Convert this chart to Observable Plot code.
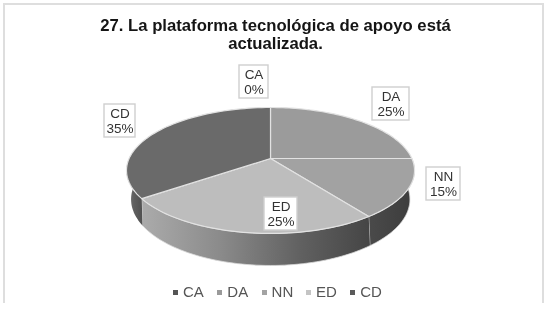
<!DOCTYPE html>
<html><head><meta charset="utf-8">
<script src="https://cdn.jsdelivr.net/npm/d3@7"></script>
<script src="https://cdn.jsdelivr.net/npm/@observablehq/plot@0.6"></script>
<style>
html,body{margin:0;padding:0;background:#fff;width:549px;height:309px;overflow:hidden}
#page{position:relative;width:549px;height:309px;font-family:"Liberation Sans",Arial,sans-serif;filter:blur(.35px)}
#frame{position:absolute;left:3px;top:3px;width:537px;height:298px;border:2px solid #dedede;border-bottom:none;pointer-events:none}
#title{position:absolute;left:0;top:0;width:551px;height:54px;box-sizing:border-box;padding-top:17px;text-align:center;font-weight:700;font-size:16.7px;line-height:18px;color:#151515}
#chart{position:absolute;left:0;top:54px}
#chart svg{display:block}
#legend{position:absolute;left:173px;top:283px;display:flex;font-size:15px;line-height:18px;color:#555;white-space:nowrap}
#legend span.it{display:block;width:44.3px}
#legend i{display:inline-block;width:5px;height:5px;margin:0 5px 2px 0;vertical-align:middle}
</style></head>
<body>
<div id="page">
<div id="frame"></div>
<div id="title">27. La plataforma tecnológica de apoyo está<br>actualizada.</div>
<div id="chart"></div>
<div id="legend"></div>
</div>
<script>
const categories = ["CA","DA","NN","ED","CD"];
const percents = [0,25,15,25,35];
const topColors = ["#555555","#9b9b9b","#a2a2a2","#bdbdbd","#6a6a6a"];
const legendColors = ["#555555","#9a9a9a","#a3a3a3","#c4c4c4","#5a5a5a"];

// label boxes, in page pixels
const labelLeft = [239,372,426,264,104];
const labelTop = [65,87,167,197,104];
const labelWidth = [29,37,34,33,31];
const labelHeight = 33;

// tilted-disc geometry
const svgTop = 54, cx = 270, cy = 158 - svgTop, sx = 141.4, sy = 60.7, persp = 0.19;
const baseX = 135/sx, baseY = 62/sy, baseK = 0.25, baseDrop = 24.3/sy;
const px = p => (p - cx)/sx, py = p => -(p - svgTop - cy)/sy;

const slices = d3.pie().sort(null).value(d => d)(percents)
  .map((s,i) => ({cat:categories[i], a0:s.startAngle, a1:s.endAngle}));

const topPoint = a => {
  const u = Math.sin(a), v = Math.cos(a), w = 1 + persp*v;
  return {x:u/w, y:v/w};
};
const basePoint = a => {
  const u = Math.sin(a), v = Math.cos(a), w = 1 + baseK*v;
  return {x:baseX*u/w, y:baseY*v/w - baseDrop};
};
const arcAngles = (a0,a1) => d3.range(0,61).map(i => a0 + (a1-a0)*i/60);

const faces = slices.flatMap(s => [
  {cat:s.cat, x:0, y:0},
  ...arcAngles(s.a0,s.a1).map(a => ({cat:s.cat, ...topPoint(a)})),
  {cat:s.cat, x:0, y:0}
]);
const wall = (a0,a1) => [
  ...arcAngles(a0,a1).map(topPoint),
  ...arcAngles(a0,a1).reverse().map(basePoint)
];
const byCat = c => slices.find(s => s.cat === c);
const rad = d => d*Math.PI/180;
const nnWall = wall(byCat("NN").a0, byCat("NN").a1);
const edWall = wall(byCat("ED").a0, byCat("ED").a1);
const cdWall = wall(byCat("CD").a0, rad(272));

const labels = categories.map((c,i) => ({
  cat:c, pct:percents[i],
  x1:px(labelLeft[i]), x2:px(labelLeft[i]+labelWidth[i]),
  y1:py(labelTop[i]), y2:py(labelTop[i]+labelHeight),
  tx:px(labelLeft[i]+labelWidth[i]/2), ty:py(labelTop[i]+labelHeight/2),
  text:c+"\n"+percents[i]+"%"
}));

const gradient = (id,stops) => () => {
  const svg = d3.create("svg:defs");
  const g = svg.append("linearGradient").attr("id",id).attr("gradientUnits","objectBoundingBox");
  stops.forEach(([o,c]) => g.append("stop").attr("offset",o).attr("stop-color",c));
  return svg.node();
};

const chart = Plot.plot({
  width:549, height:214, margin:0,
  style:{background:"transparent",overflow:"visible"},
  x:{domain:[-1,1], range:[cx-sx,cx+sx], axis:null},
  y:{domain:[-1,1], range:[cy+sy,cy-sy], axis:null},
  color:{domain:categories, range:topColors},
  marks:[
    gradient("gNN",[[0,"#4a4a4a"],[1,"#3c3c3c"]]),
    gradient("gED",[[0,"#ababab"],[.35,"#8a8a8a"],[.7,"#606060"],[1,"#454545"]]),
    gradient("gCD",[[0,"#777777"],[.5,"#5e5e5e"],[1,"#505050"]]),
    Plot.line(nnWall,{x:"x",y:"y",fill:"url(#gNN)",stroke:"#d8d8d8",strokeWidth:0.8}),
    Plot.line(edWall,{x:"x",y:"y",fill:"url(#gED)",stroke:"#d8d8d8",strokeWidth:0.8}),
    Plot.line(cdWall,{x:"x",y:"y",fill:"url(#gCD)",stroke:"none"}),
    Plot.line(faces,{x:"x",y:"y",z:"cat",fill:"cat",stroke:"#e2e2e2",strokeWidth:1.2}),
    Plot.rect(labels,{x1:"x1",x2:"x2",y1:"y1",y2:"y2",fill:"#fff",stroke:"#cfcfcf",strokeWidth:1.4}),
    Plot.text(labels,{x:"tx",y:"ty",text:"text",fontSize:13.5,lineHeight:1.1,fill:"#333",fontFamily:"Liberation Sans, Arial, sans-serif"})
  ]
});
document.getElementById("chart").append(chart);

const legend = document.getElementById("legend");
categories.forEach((c,i) => {
  const it = document.createElement("span"); it.className = "it";
  const sw = document.createElement("i"); sw.style.background = legendColors[i];
  it.append(sw, c); legend.append(it);
});
</script>
</body></html>
